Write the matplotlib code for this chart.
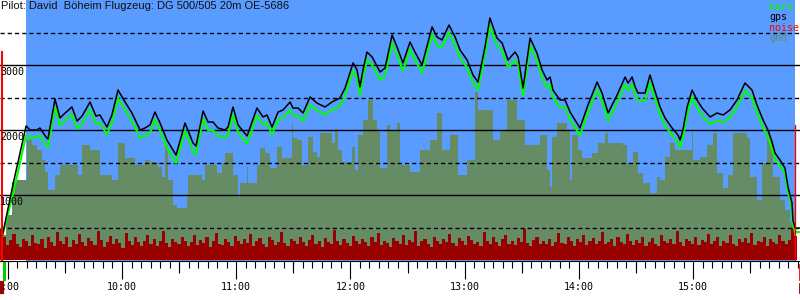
import numpy as np
import matplotlib.pyplot as plt
import matplotlib.transforms as mtransforms

plt.rcParams['lines.scale_dashes'] = False

# flight data, time in minutes after 9:00, altitude in m
t_min = [-3.0, 3.0, 9.6, 11.7, 15.3, 16.9, 20.1, 21.1, 24.8, 27.4,
         29.5, 33.7, 36.4, 39.0, 43.2, 46.3, 48.4, 52.1, 54.7, 57.9,
         61.6, 65.2, 69.5, 72.1, 74.7, 77.3, 80.0, 83.6, 88.4, 93.1,
         97.3, 98.9, 102.6, 105.2, 107.8, 110.4, 114.1, 115.7, 118.3, 121.0,
         125.7, 130.9, 134.1, 136.2, 138.8, 142.0, 144.6, 148.3, 149.8, 152.5,
         155.1, 158.8, 162.4, 166.7, 170.3, 174.5, 177.2, 181.4, 183.5, 185.0,
         186.6, 188.7, 191.4, 195.6, 198.2, 201.9, 204.5, 207.6, 211.3, 213.9,
         217.6, 222.9, 225.5, 228.1, 231.8, 235.0, 237.6, 241.3, 244.4, 247.0,
         250.7, 253.3, 257.0, 259.7, 262.8, 266.5, 268.1, 270.7, 274.4, 278.0,
         280.7, 283.3, 284.9, 286.4, 290.1, 292.8, 295.4, 298.0, 300.6, 304.8,
         309.6, 312.2, 315.4, 320.1, 324.3, 325.9, 328.0, 329.6, 331.1, 334.8,
         337.4, 339.0, 342.7, 345.3, 349.0, 352.1, 353.2, 354.7, 356.9, 359.5,
         362.1, 364.8, 369.0, 372.6, 375.8, 379.4, 383.1, 387.3, 391.0, 393.6,
         396.8, 399.4, 401.5, 403.1, 405.7, 408.3, 409.9, 412.0, 412.5, 413.6,
         416.5]

gps = [354, 1200, 2062, 2000, 2000, 2031, 1892, 1862, 2477, 2185,
       2246, 2354, 2138, 2215, 2431, 2215, 2231, 2046, 2231, 2615,
       2431, 2262, 2000, 2031, 2077, 2277, 2108, 1846, 1615, 2108,
       1800, 1754, 2292, 2123, 2123, 2031, 2000, 2046, 2354, 2077,
       1908, 2338, 2200, 2231, 2046, 2277, 2308, 2431, 2338, 2338,
       2262, 2508, 2415, 2354, 2431, 2492, 2646, 3031, 2923, 2662,
       2923, 3200, 3123, 2892, 2954, 3462, 3277, 3031, 3354, 3200,
       3000, 3585, 3431, 3385, 3615, 3431, 3231, 3077, 2846, 2738,
       3277, 3723, 3415, 3338, 3077, 3200, 3123, 2646, 3415, 3185,
       2923, 2769, 2815, 2615, 2462, 2462, 2277, 2154, 2031, 2385,
       2738, 2569, 2262, 2538, 2815, 2723, 2815, 2662, 2569, 2569,
       2846, 2692, 2354, 2185, 2031, 1923, 1846, 2000, 2354, 2615,
       2462, 2338, 2200, 2262, 2231, 2308, 2462, 2723, 2615, 2385,
       2154, 2000, 1815, 1646, 1538, 1415, 1123, 877, 615, 492,
       492]

baro = [354, 1050, 1920, 1880, 1890, 1910, 1770, 1740, 2350, 2070,
        2130, 2240, 2020, 2100, 2310, 2100, 2110, 1930, 2110, 2490,
        2310, 2140, 1880, 1910, 1960, 2160, 1990, 1720, 1490, 1990,
        1680, 1630, 2170, 2000, 2000, 1910, 1880, 1930, 2240, 1960,
        1790, 2220, 2080, 2110, 1930, 2160, 2190, 2310, 2220, 2220,
        2140, 2390, 2300, 2240, 2310, 2370, 2530, 2910, 2800, 2540,
        2800, 3080, 3000, 2770, 2840, 3340, 3160, 2910, 3240, 3080,
        2880, 3470, 3310, 3270, 3500, 3310, 3110, 2960, 2730, 2620,
        3160, 3600, 3300, 3220, 2960, 3080, 3000, 2530, 3300, 3070,
        2800, 2650, 2700, 2500, 2350, 2350, 2160, 2040, 1920, 2270,
        2620, 2450, 2150, 2420, 2700, 2610, 2700, 2550, 2450, 2450,
        2730, 2580, 2240, 2070, 1920, 1810, 1730, 1890, 2240, 2500,
        2350, 2220, 2090, 2150, 2120, 2190, 2350, 2610, 2500, 2270,
        2040, 1890, 1710, 1550, 1450, 1330, 1040, 800, 540, 430,
        430]

# terrain below the flight path (step data)
gnd_t = [-4.1, -0.9, 2.2, 4.8, 10.1, 12.7, 15.3, 18.0, 19.5, 21.1,
         24.8, 27.4, 32.7, 36.9, 39.0, 43.2, 48.4, 54.7, 57.9, 61.6,
         66.9, 72.1, 74.7, 78.9, 81.0, 82.6, 84.2, 86.8, 88.9, 94.1,
         94.7, 102.0, 103.6, 109.9, 112.5, 114.1, 118.3, 121.0, 122.0, 125.7,
         126.2, 130.9, 132.5, 135.1, 137.8, 141.4, 144.1, 149.3, 149.9, 152.0,
         154.6, 157.7, 160.4, 162.4, 164.0, 170.3, 171.9, 173.5, 175.6, 180.8,
         182.4, 184.0, 186.6, 189.2, 191.9, 194.0, 195.6, 199.2, 200.9, 204.5,
         206.1, 211.3, 216.6, 221.8, 225.5, 228.1, 232.3, 236.5, 241.3, 245.5,
         247.0, 254.9, 258.6, 262.3, 267.5, 271.7, 279.6, 283.3, 284.9, 285.9,
         288.5, 293.8, 295.4, 296.4, 299.6, 301.7, 307.0, 310.1, 313.8, 315.4,
         323.2, 325.3, 328.5, 331.1, 333.8, 337.4, 341.1, 342.7, 345.3, 348.0,
         350.6, 359.5, 360.0, 363.7, 367.4, 370.5, 372.6, 375.8, 378.4, 381.1,
         388.4, 390.0, 393.6, 396.3, 398.9, 400.5, 402.1, 405.7, 408.3, 411.0,
         412.5, 413.6]

gnd = [385, 692, 1200, 1231, 1846, 1769, 1692, 1538, 1354, 1077,
       1308, 1462, 1462, 1308, 1769, 1692, 1308, 1231, 1800, 1569,
       1462, 1538, 1508, 1431, 1277, 1769, 1231, 846, 800, 969,
       1308, 1231, 1462, 1338, 1492, 1646, 1308, 969, 1185, 1431,
       1185, 1462, 1723, 1646, 1415, 1738, 1569, 2108, 1877, 1846,
       1462, 1892, 1662, 1585, 1954, 1800, 2015, 1692, 1508, 1738,
       1385, 1923, 2154, 2462, 2154, 2000, 1415, 2077, 2000, 2108,
       1462, 1354, 1692, 1846, 2262, 1692, 1923, 1308, 1538, 2585,
       2308, 1846, 2000, 2462, 2154, 1769, 1923, 1385, 1123, 1892,
       2108, 2000, 1231, 1923, 1692, 1569, 1646, 1800, 1954, 1800,
       1769, 1492, 1662, 1338, 1185, 1031, 1277, 1231, 1585, 1800,
       1692, 1969, 1538, 1585, 1769, 1954, 1338, 1108, 1308, 1954,
       1877, 1277, 923, 1492, 1954, 1846, 1277, 923, 769, 569,
       508, 0]

# engine noise level (same vertical scale)
noise = [470, 360, 230, 310, 400, 250, 200, 330, 290, 210, 380, 260, 240, 320, 190, 350,
         280, 220, 430, 300, 250, 360, 200, 310, 240, 400, 270, 210, 340, 290, 230, 450,
         310, 200, 280, 370, 240, 320, 260, 190, 410, 290, 230, 350, 270, 210, 300, 380,
         250, 330, 220, 290, 440, 260, 200, 320, 280, 240, 360, 300, 210, 270, 390, 230,
         310, 260, 350, 200, 290, 420, 250, 230, 330, 280, 210, 370, 300, 240, 320, 260,
         400, 220, 290, 340, 250, 200, 360, 310, 230, 280, 430, 260, 210, 320, 290, 240,
         350, 270, 220, 310, 390, 250, 300, 200, 340, 280, 240, 460, 290, 230, 320, 260,
         210, 370, 300, 240, 330, 280, 220, 350, 270, 410, 230, 300, 260, 200, 340, 290,
         250, 380, 230, 310, 270, 440, 220, 290, 330, 250, 200, 360, 300, 240, 320, 280,
         400, 260, 210, 340, 290, 230, 370, 310, 250, 280, 220, 430, 300, 240, 350, 270,
         210, 320, 390, 250, 300, 230, 340, 280, 470, 260, 220, 310, 360, 240, 290, 250,
         330, 220, 280, 410, 260, 240, 350, 300, 210, 320, 270, 380, 230, 290, 340, 250,
         300, 430, 240, 280, 320, 210, 360, 270, 250, 400, 290, 230, 310, 260, 350, 220,
         280, 340, 250, 210, 390, 300, 260, 320, 240, 450, 280, 220, 330, 290, 250, 360,
         230, 310, 270, 400, 240, 290, 350, 220, 300, 260, 380, 250, 210, 320, 280, 340,
         260, 420, 230, 300, 280, 350, 210, 330, 270, 240, 390, 290, 250, 310, 500, 370]
noise_t = np.linspace(-4.1, 413.0, len(noise))

takeoff, release, landing = -3.0, 9.6, 413.6
takeoff_top, landing_top = 3200, 2077

hour_labels = ['9:00', '10:00', '11:00', '12:00', '13:00', '14:00', '15:00']
hour_ticks = [0, 60, 120, 180, 240, 300, 360]
half_ticks = [30, 90, 150, 210, 270, 330, 390]
grid_solid = [1000, 2000, 3000]
grid_dash = [500, 1500, 2500, 3500]

sky = '#5a9bff'
gnd_col = '#668c66'
noise_col = '#990000'
mono = 'DejaVu Sans Mono'

fig = plt.figure(figsize=(8, 3), dpi=100)
ax = fig.add_axes([0, 39 / 300, 1, 261 / 300])
ax.set_xlim(-4.1, 416.2)
ax.set_ylim(-15, 4000)
ax.set_facecolor('white')

ax.axvspan(release, landing, color=sky, lw=0, zorder=0)
ax.fill_between(gnd_t, gnd, step='post', color=gnd_col, lw=0, zorder=1)
ax.bar(noise_t, noise, width=noise_t[1] - noise_t[0], align='edge',
       color=noise_col, lw=0, zorder=2)

for g in grid_solid:
    ax.axhline(g, color='black', lw=1, zorder=3)
for g in grid_dash:
    ax.axhline(g, color='black', lw=1, dashes=(3, 2.2), zorder=3)

ax.plot(t_min, baro, color='#00ff00', lw=1.5, zorder=4)
ax.plot(t_min, gps, color='black', lw=1.1, zorder=5)

# takeoff / landing markers
ax.plot([takeoff, takeoff], [0, takeoff_top], color='red', lw=1.5, zorder=6)
ax.plot([landing, landing], [0, landing_top], color='red', lw=1, zorder=6)
trans = mtransforms.blended_transform_factory(ax.transData, ax.transAxes)
ax.plot([-2.2, -2.2], [-0.005, -0.07], color='#00cc00', lw=2.2,
        transform=trans, clip_on=False)
ax.plot([-3.2, -3.2], [-0.085, -0.12], color=noise_col, lw=3,
        transform=trans, clip_on=False)
ax.plot([416.0, 416.0], [-0.015, -0.07], color='red', lw=2,
        transform=trans, clip_on=False)
ax.plot([416.0, 416.0], [-0.09, -0.12], color=noise_col, lw=2,
        transform=trans, clip_on=False)

# y labels
for g in grid_solid:
    ax.annotate(str(g), xy=(0, g), xycoords=('axes fraction', 'data'),
                xytext=(0, -1.5), textcoords='offset points', va='top',
                ha='left', fontsize=7.2, family=mono, zorder=7)

# x axis
for s in ['left', 'right', 'top']:
    ax.spines[s].set_visible(False)
ax.spines['bottom'].set_linewidth(0.8)
ax.set_yticks([])
ax.set_xticks(hour_ticks)
ax.set_xticklabels(hour_labels, family=mono, fontsize=7.2)
ax.set_xticks(np.arange(0, 420, 5), minor=True)
ax.tick_params(axis='x', which='major', length=13, width=0.8, pad=2)
ax.tick_params(axis='x', which='minor', length=5, width=0.8)
sec = ax.secondary_xaxis('bottom')
sec.set_xticks(half_ticks)
sec.set_xticklabels([])
sec.tick_params(length=8.6, width=0.8)
sec.spines['bottom'].set_visible(False)

fig.text(1 / 800, 1 - 1 / 300, 'Pilot: David  Böheim Flugzeug: DG 500/505 20m OE-5686',
         ha='left', va='top', fontsize=8, family='Liberation Sans', color='#111111')

legend = [('baro', '#00ff00'), ('gps', 'black'), ('noise', 'red'), ('gnd', gnd_col)]
for i, (name, col) in enumerate(legend):
    fig.text(769 / 800, 1 - (7 + 10.3 * i) / 300, name, color=col,
             family=mono, fontsize=7.2, ha='left', va='center')

fig.savefig('out.png', dpi=100)
